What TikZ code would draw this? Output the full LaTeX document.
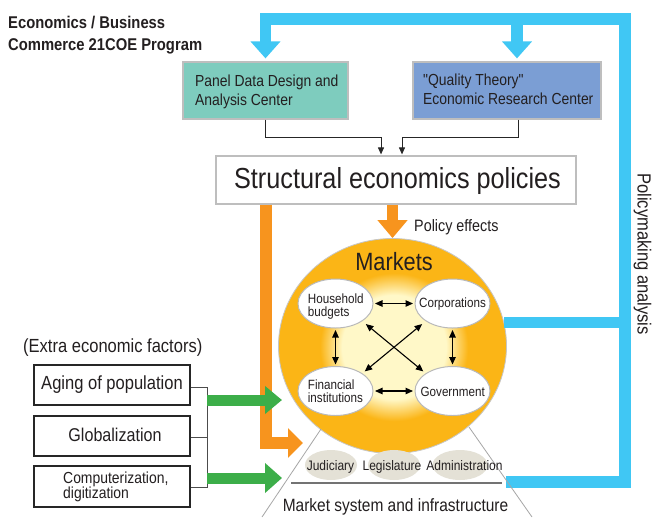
\documentclass[tikz,border=0pt]{standalone}
\usepackage{fontspec}
\setmainfont{Liberation Sans}[FakeStretch=0.87]
\newfontfamily\nqfont{Liberation Sans}[FakeStretch=0.87]
\usetikzlibrary{arrows.meta,shapes.geometric}
\definecolor{pteal}{RGB}{126,204,190}
\definecolor{pblue}{RGB}{123,158,212}
\definecolor{lblue}{RGB}{64,199,244}
\definecolor{orng}{RGB}{247,148,30}
\definecolor{mkt}{RGB}{251,181,22}
\definecolor{paleY}{RGB}{255,248,200}
\definecolor{grn}{RGB}{60,174,73}
\definecolor{jgray}{RGB}{228,225,214}
\definecolor{boxgray}{RGB}{190,190,190}
\definecolor{txt}{RGB}{35,31,32}
\pgfdeclareradialshading{glow}{\pgfpoint{0bp}{0bp}}{color(0bp)=(paleY); color(13bp)=(paleY); color(18.5bp)=(mkt); color(25bp)=(mkt); color(50bp)=(mkt)}
\newcommand\setfs[2]{\fontsize{#1pt}{#2pt}\selectfont}
\begin{document}
\begin{tikzpicture}[x=1pt,y=-1pt,
  tbox/.style={draw=boxgray, line width=1.2pt, inner sep=0pt},
  fbox/.style={draw=black!85, line width=1.2pt, fill=white, inner sep=0pt, minimum width=156pt, minimum height=40pt},
  wel/.style={ellipse, fill=white, draw=gray!55, line width=1pt, minimum width=75pt, minimum height=49pt, inner sep=0pt},
  gel/.style={ellipse, fill=jgray, minimum height=30pt, inner sep=0pt},
  tx/.style={inner sep=0pt, text=txt},
  blueline/.style={draw=lblue, line width=11.5pt, line join=miter},
  orangeline/.style={draw=orng, line width=11.5pt, line join=miter},
  greenline/.style={draw=grn, line width=11pt},
  conn/.style={draw=black!85, line width=1pt, -{Triangle[width=6pt,length=7pt]}, shorten >=1pt},
  dbl/.style={draw=black, line width=1.1pt, {Triangle[width=6.5pt,length=7.5pt]}-{Triangle[width=6.5pt,length=7.5pt]}, shorten <=1.5pt, shorten >=1.5pt},
  bracket/.style={draw=black!70, line width=1pt},
  tri/.style={draw=gray!70, line width=0.8pt}
]
\useasboundingbox[fill=white] (0,0) rectangle (660,517);

% boxes
\node[tbox, fill=pteal, minimum width=165pt, minimum height=57pt] (panel) at (265.5,90.5) {};
\node[tbox, fill=pblue, minimum width=188pt, minimum height=57pt] (qual) at (507,90.5) {};
\node[tbox, fill=white, minimum width=360pt, minimum height=48pt] (struct) at (396,180) {};
\node[fbox] (f1) at (112,385) {};
\node[fbox] (f2) at (112,436) {};
\node[fbox, minimum height=41pt] (f3) at (112,486.5) {};

% markets circle
\node[ellipse, fill=mkt, draw=gray!45, line width=0.8pt, minimum width=228pt, minimum height=215pt, inner sep=0pt] (mk) at (392.5,346) {};
\shade[shading=glow] (394,347) circle[radius=100pt];

% blue policymaking loop
\coordinate (bS) at (506,482);
\coordinate (bA) at (625,482);
\coordinate (bB) at (625,19);
\coordinate (bC) at (265.5,19);
\coordinate (bD) at (517,19);
\coordinate (bE) at (625,321);
\draw[blueline, -{Triangle[width=29pt,length=17pt]}, shorten >=3pt] (bS) -- (bA) -- (bB) -- (bC) -- (panel.north);
\draw[blueline, -{Triangle[width=29pt,length=17pt]}, shorten >=3pt] (bD) -- (bD |- qual.north);
\draw[blueline] (mk.12.7) -- (mk.12.7 -| bE);

% orange arrows
\coordinate (oT) at (266,443);
\coordinate (oTip) at (303,443);
\draw[orangeline, -{Triangle[width=29pt,length=15pt]}] (oT |- struct.south) -- (oT) -- (oTip);
\draw[orangeline, -{Triangle[width=29pt,length=18pt]}] (mk.north |- struct.south) -- (mk.north);

% bracket and green arrows
\coordinate (k1) at (207,387);
\coordinate (k2) at (207,437);
\coordinate (k3) at (207,487);
\draw[bracket] (f1.east |- k1) -- (k1) -- (k3) -- (f3.east |- k3);
\draw[bracket] (f2.east |- k2) -- (k2);
\coordinate (g1) at (207,400);
\coordinate (g1t) at (282,400);
\coordinate (g2) at (207,478);
\coordinate (g2t) at (282,478);
\draw[greenline, -{Triangle[width=27pt,length=17pt]}] (g1) -- (g1t);
\draw[greenline, -{Triangle[width=29pt,length=17pt]}] (g2) -- (g2t);

% connectors from centers
\draw[conn] (panel.south) -- ++(0,18) -| ([xshift=-15pt]struct.north);
\draw[conn] ([xshift=11pt]qual.south) -- ++(0,18) -| ([xshift=6pt]struct.north);

% market actors
\node[wel] (hh) at (335.5,303.5) {};
\node[wel] (co) at (452.5,303.5) {};
\node[wel] (fi) at (335.5,391) {};
\node[wel] (go) at (452.5,391) {};
\draw[dbl] (hh.east) -- (co.west);
\draw[dbl] (fi.east) -- (go.west);
\draw[dbl] (hh.south) -- (fi.north);
\draw[dbl] (co.south) -- (go.north);
\draw[dbl, shorten <=4.5pt, shorten >=3pt] (hh.south east) -- (go.north west);
\draw[dbl, shorten <=4.5pt, shorten >=3pt] (co.south west) -- (fi.north east);

% infrastructure
\draw[tri] (321,429) -- (262,517);
\draw[tri] (469,427) -- (532,517);
\node[gel, minimum width=52pt] (ju) at (331,465) {};
\node[gel, minimum width=52pt] (le) at (394,465) {};
\node[gel, minimum width=55pt] (ad) at (460,465) {};
\draw[draw=black!55, line width=1.5pt] (291,483) -- (502,483);

% texts
\node[tx, anchor=base west, font=\bfseries\setfs{17}{22}] (t1) at (8,28) {Economics / Business};
\node[tx, anchor=base west, font=\bfseries\setfs{17}{22}] (t2) at (8,50) {Commerce 21COE Program};
\node[tx, anchor=north west, align=left, font=\setfs{16}{19}] (tp) at (195,74.5) {Panel Data Design and\\Analysis Center};
\node[tx, anchor=north west, align=left, font=\setfs{16}{19}] (tq) at (423,73.5) {{\nqfont"}Quality Theory{\nqfont"}\\Economic Research Center};
\node[tx, anchor=base, font=\setfs{29}{34}] (ts) at (397.5,188) {Structural economics policies};
\node[tx, anchor=base west, font=\setfs{16.5}{20}] (te) at (414,231) {Policy effects};
\node[tx, anchor=base, font=\setfs{25}{30}] (tm) at (394,270.7) {Markets};
\node[tx, anchor=north west, align=left, font=\setfs{13.4}{13.3}] (th) at (307.7,293.1) {Household\\budgets};
\node[tx, anchor=base, font=\setfs{13.4}{16}] (tc) at (452.5,307.3) {Corporations};
\node[tx, anchor=north west, align=left, font=\setfs{13.4}{12.6}] (tf) at (307.7,379.7) {Financial\\institutions};
\node[tx, anchor=base, font=\setfs{13.4}{16}] (tg) at (452.7,396.7) {Government};
\node[tx, anchor=base, font=\setfs{13.8}{16}] (tj) at (330.5,470) {Judiciary};
\node[tx, anchor=base, font=\setfs{13.8}{16}] (tl) at (392,470) {Legislature};
\node[tx, anchor=base, font=\setfs{13.8}{16}] (tad) at (464.5,470) {Administration};
\node[tx, anchor=base, font=\setfs{17.8}{21}] (tms) at (395.5,511) {Market system and infrastructure};
\node[tx, anchor=base west, font=\setfs{19}{22}] (tx1) at (23,352.7) {(Extra economic factors)};
\node[tx, anchor=base, font=\setfs{19}{22}] (ta) at (112,389) {Aging of population};
\node[tx, anchor=base, font=\setfs{18.5}{22}] (tgl) at (115,441) {Globalization};
\node[tx, anchor=north west, align=left, font=\setfs{16}{15.3}] (tcd) at (63,471.5) {Computerization,\\digitization};
\node[tx, rotate=-90, anchor=base west, font=\setfs{19}{22}] (tpa) at (637.5,173) {Policymaking analysis};
\end{tikzpicture}
\end{document}
